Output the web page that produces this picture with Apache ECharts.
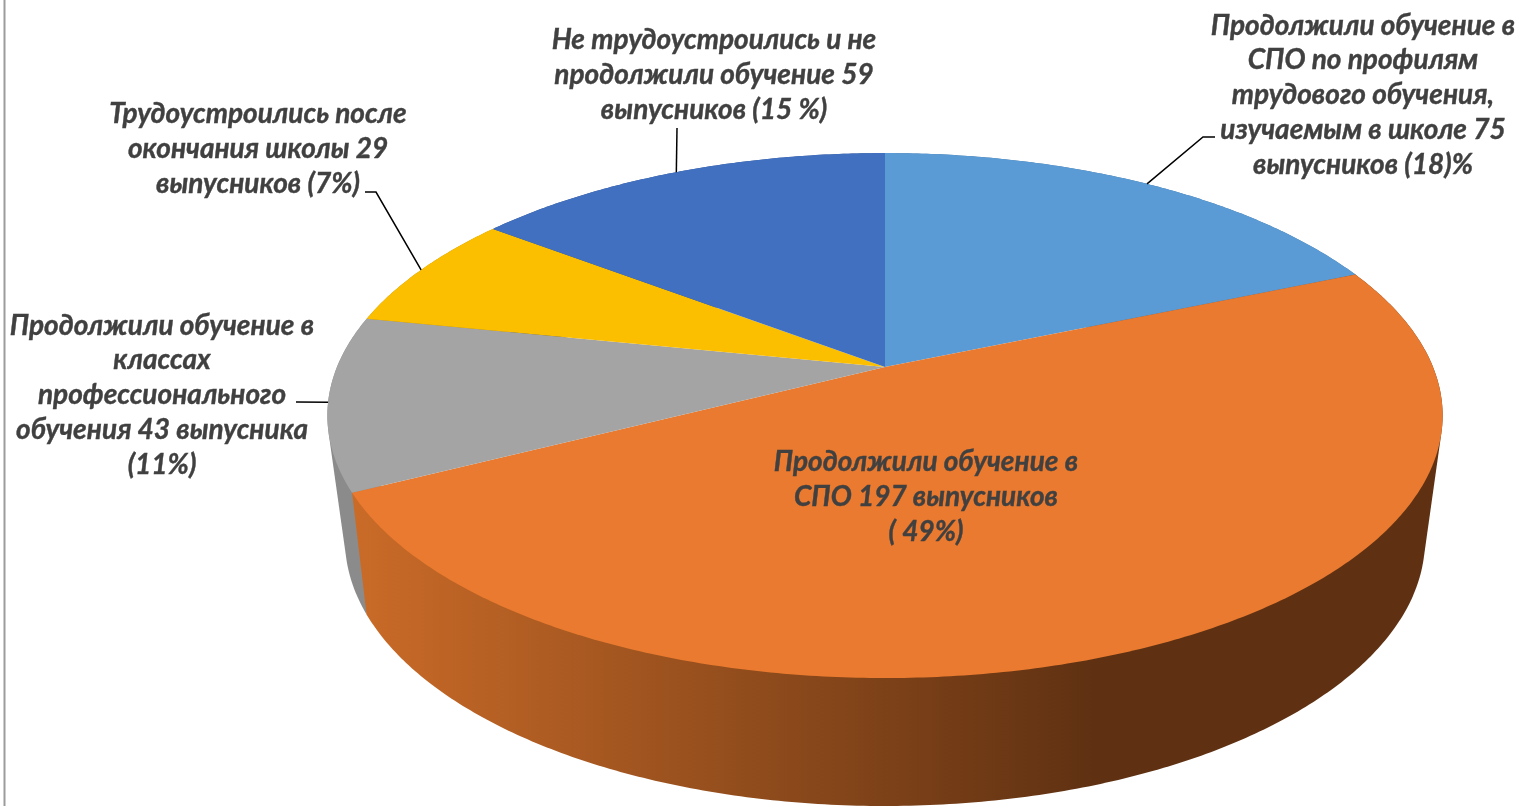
<!DOCTYPE html>
<html><head><meta charset="utf-8">
<style>html,body{margin:0;padding:0;background:#fff}#c{width:1520px;height:806px}</style>
<script src="https://cdn.jsdelivr.net/npm/echarts@6/dist/echarts.min.js"></script>
</head><body><div id="c"></div>
<script>
const categories = [
  "Продолжили обучение в\nСПО по профилям\nтрудового обучения,\nизучаемым в школе 75\nвыпусников (18)%",
  "Продолжили обучение в\nСПО 197 выпусников\n( 49%)",
  "Продолжили обучение в\nклассах\nпрофессионального\nобучения 43 выпусника\n(11%)",
  "Трудоустроились после\nокончания школы 29\nвыпусников (7%)",
  "Не трудоустроились и не\nпродолжили обучение 59\nвыпусников (15 %)"
];
const values = [75, 197, 43, 29, 59];
const topColors = ["#5B9BD5", "#E97A2F", "#A4A4A4", "#FCBF00", "#4270C0"];

// layout (separate from the data)
const labelCenters = [[1363, 95], [926, 497], [162, 395], [258, 149], [714, 75]];
const leaderElbows = [[[1203,137],[1215,137]], null, [[296,402]], [[376,192],[365,192]], [[677,128]]];
const FONT = 'italic bold 28px Lato, "Open Sans", sans-serif';
const LH = 34.75;

// perspective disc: unit circle -> screen
const TOP = {cx:885, cy:367, a:253.5, b:548, p:0.185};
const BOT = (function(){const p=0.2;return {cx:885, cy:540-p*266, a:266*(1-p*p), b:540*Math.sqrt(1-p*p), p:p};})();
function proj(d, t){
  const x=Math.sin(t), y=Math.cos(t), k=1+d.p*y;
  return [d.cx+d.b*x/k, d.cy-d.a*y/k];
}
function arc(d, t0, t1){
  const n=Math.max(2,Math.ceil(Math.abs(t1-t0)/0.01)), out=[];
  for(let i=0;i<=n;i++) out.push(proj(d,t0+(t1-t0)*i/n));
  return out;
}
function hull(points){
  const p=points.slice().sort((u,v)=>u[0]-v[0]||u[1]-v[1]);
  const cross=(o,u,v)=>(u[0]-o[0])*(v[1]-o[1])-(u[1]-o[1])*(v[0]-o[0]);
  const lo=[],up=[];
  p.forEach(q=>{while(lo.length>1&&cross(lo[lo.length-2],lo[lo.length-1],q)<=0)lo.pop();lo.push(q);});
  p.slice().reverse().forEach(q=>{while(up.length>1&&cross(up[up.length-2],up[up.length-1],q)<=0)up.pop();up.push(q);});
  lo.pop();up.pop();
  return lo.concat(up);
}
const total = values.reduce((s,v)=>s+v,0);
const starts = []; { let c=0; values.forEach(v=>{starts.push(c/total*2*Math.PI); c+=v;}); }
const ends = values.map((v,i)=>starts[i]+v/total*2*Math.PI);

const sideFill = [
  "#3f6f9c",
  new echarts.graphic.LinearGradient(353,0,1095,0,[{offset:0,color:"#CA6B28"},{offset:1,color:"#5F3112"}],true),
  "#8B8B8B","#b58900","#2f5088"
];

const data = values.map((v,i)=>({value:[v,i],name:categories[i]}));
const chart = echarts.init(document.getElementById('c'),null,{renderer:'canvas'});
chart.setOption({
  animation:false,
  backgroundColor:'#fff',
  graphic:[{type:'line',silent:true,shape:{x1:4.5,y1:0,x2:4.5,y2:806},style:{stroke:'#9C9C9C',lineWidth:2}}],
  series:[
    {type:'custom',coordinateSystem:'none',data:data,z:1,silent:true,
     renderItem:function(params,api){
       const i=api.value(1);
       const pts=hull(arc(TOP,starts[i],ends[i]).concat(arc(BOT,starts[i],ends[i])));
       return {type:'polygon',z2:i===1?5:0,shape:{points:pts},style:{fill:sideFill[i],stroke:null}};
     }},
    {type:'custom',coordinateSystem:'none',data:data,z:2,silent:true,
     renderItem:function(params,api){
       const i=api.value(1);
       const pts=[[TOP.cx,TOP.cy]].concat(arc(TOP,starts[i],ends[i]));
       return {type:'polygon',shape:{points:pts},style:{fill:topColors[i],stroke:null}};
     }},
    {type:'custom',coordinateSystem:'none',data:data,z:3,silent:true,
     renderItem:function(params,api){
       const i=api.value(1), kids=[];
       if(leaderElbows[i]){
         const mid=(starts[i]+ends[i])/2;
         kids.push({type:'polyline',shape:{points:[proj(TOP,mid)].concat(leaderElbows[i])},
           style:{fill:null,stroke:'#000',lineWidth:1.5}});
       }
       kids.push({type:'text',x:labelCenters[i][0],y:labelCenters[i][1],
         style:{text:categories[i],font:FONT,fill:'#404040',stroke:'#404040',lineWidth:0.4,align:'center',verticalAlign:'middle',lineHeight:LH}});
       return {type:'group',children:kids};
     }}
  ]
});
</script></body></html>
